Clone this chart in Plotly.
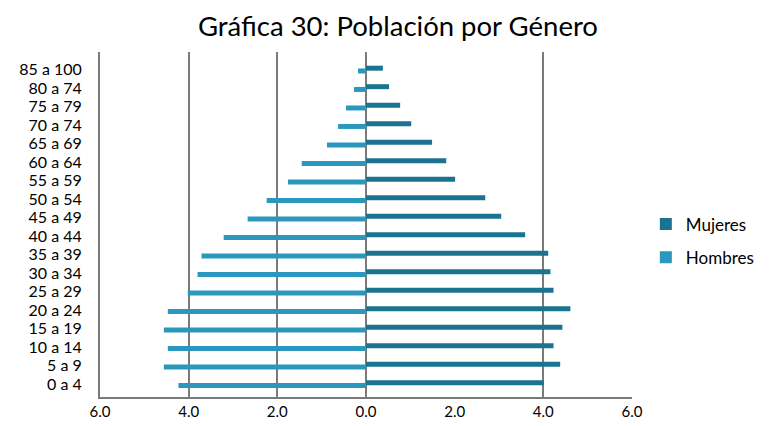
import plotly.graph_objects as go

grupos = ["0 a 4", "5 a 9", "10 a 14", "15 a 19", "20 a 24", "25 a 29", "30 a 34",
          "35 a 39", "40 a 44", "45 a 49", "50 a 54", "55 a 59", "60 a 64",
          "65 a 69", "70 a 74", "75 a 79", "80 a 74", "85 a 100"]
mujeres = [4.01, 4.38, 4.23, 4.43, 4.61, 4.23, 4.16, 4.11, 3.59, 3.05, 2.69,
           2.01, 1.81, 1.49, 1.02, 0.77, 0.52, 0.38]
hombres = [4.23, 4.56, 4.47, 4.56, 4.47, 4.02, 3.80, 3.71, 3.21, 2.67, 2.24,
           1.76, 1.45, 0.88, 0.63, 0.45, 0.27, 0.18]
x_ticks = [-6, -4, -2, 0, 2, 4, 6]
x_ticktext = ["6.0", "4.0", "2.0", "0.0", "2.0", "4.0", "6.0"]
grid_vals = [-6, -4, -2, 0, 4, 6]

C_MUJ = "#1A7391"
C_HOM = "#2A98BC"
FONT = "Lato"

fig = go.Figure()
fig.add_trace(go.Bar(
    y=grupos, x=mujeres, orientation="h", name="Mujeres",
    marker=dict(color=C_MUJ, line=dict(width=0)),
    width=0.27, offset=-0.06, legendgroup="m", xaxis="x2",
))
fig.add_trace(go.Bar(
    y=grupos, x=[-v for v in hombres], orientation="h", name="Hombres",
    marker=dict(color=C_HOM, line=dict(width=0)),
    width=0.27, offset=-0.21, legendgroup="h",
))

fig.update_layout(
    width=772, height=426,
    margin=dict(l=100, r=140, t=52, b=29, autoexpand=False),
    paper_bgcolor="white", plot_bgcolor="white",
    barmode="overlay",
    title=dict(text="Gráfica 30: Población por Género", x=0.5155, xanchor="center",
               y=0.937, yref="container", yanchor="middle", automargin=False,
               font=dict(family=FONT, size=27.5, color="black")),
    font=dict(family=FONT, color="black"),
    xaxis=dict(range=[-6, 6], tickvals=x_ticks, ticktext=x_ticktext, automargin=False,
               showgrid=False, zeroline=False, showline=True, linecolor="#7a7a7a",
               linewidth=2, ticks="", tickfont=dict(size=15, family=FONT, color="black")),
    xaxis2=dict(range=[-6, 6], overlaying="x", side="top", tickvals=grid_vals,
                automargin=False,
                showgrid=True, gridcolor="#7a7a7a", gridwidth=2, zeroline=False,
                showticklabels=False, ticks="", showline=False),
    yaxis=dict(type="category", range=[-0.70, 17.95], showgrid=False, zeroline=False,
               automargin=False, tickmode="array", tickvals=grupos,
               showline=True, linecolor="#7a7a7a", linewidth=2, ticks="",
               ticklabelstandoff=13,
               tickfont=dict(size=16, family=FONT, color="black")),
    legend=dict(x=1.026, y=0.452, xanchor="left", yanchor="middle",
                font=dict(size=17, family=FONT, color="black"),
                traceorder="grouped", tracegroupgap=8, itemwidth=30),
    showlegend=True,
)

fig.write_html("out.html", config={"displayModeBar": False},
               post_script="document.body.style.margin='0';document.body.style.overflow='hidden';")
